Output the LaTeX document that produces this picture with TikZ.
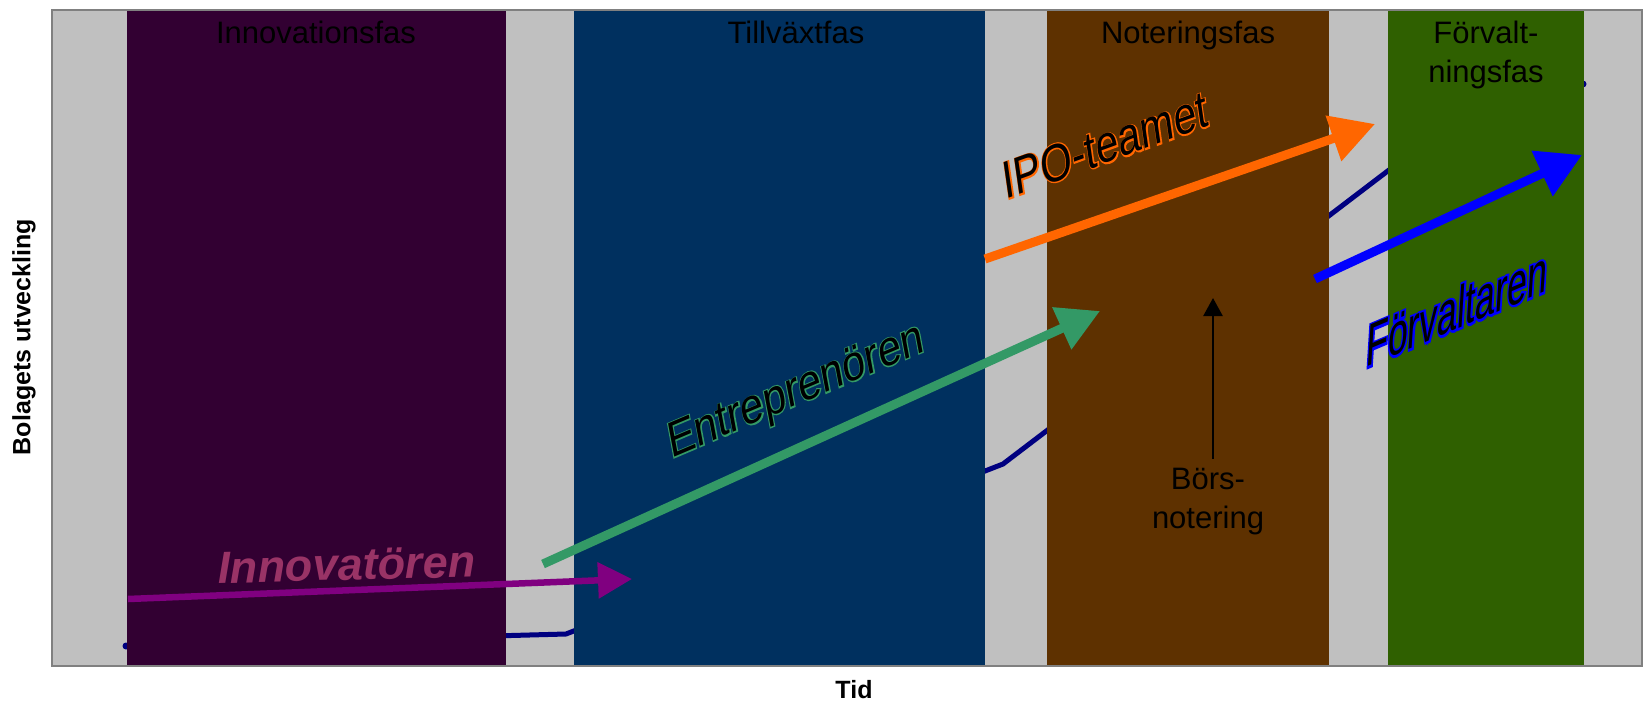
\documentclass[tikz,border=0pt]{standalone}
\usepackage{fontspec}
\setmainfont{Liberation Sans}
\newfontface\haloface{Liberation Sans}[FakeBold=5]
\newfontface\heavyhaloface{Liberation Sans}[FakeBold=8]
\usepackage{tikz}
\usepackage{xcolor}
\usetikzlibrary{arrows.meta}
\definecolor{plot_bg}{HTML}{C0C0C0}
\definecolor{plot_frame}{HTML}{808080}
\definecolor{phase_innov}{HTML}{320032}
\definecolor{phase_growth}{HTML}{00305F}
\definecolor{phase_ipo}{HTML}{5E3100}
\definecolor{phase_mgmt}{HTML}{2F6000}
\definecolor{dev_line}{HTML}{000080}
\definecolor{role_innov}{HTML}{800080}
\definecolor{role_innov_txt}{HTML}{993366}
\definecolor{role_entr}{HTML}{339966}
\definecolor{role_ipo}{HTML}{FF6600}
\definecolor{role_mgmt}{HTML}{0000FF}
% black letters with a coloured rim
\newcommand{\halotext}[2]{\rlap{\color{#1}\haloface #2}#2}
\newcommand{\heavyhalotext}[2]{\rlap{\color{#1}\heavyhaloface #2}#2}
\tikzset{
    phase_label/.style={font=\fontsize{15.5}{19.5}\selectfont,align=center,inner sep=0pt,anchor=north},
    axis_label/.style={font=\bfseries\fontsize{12.5}{15}\selectfont,inner sep=0pt},
    role_arrow/.style={-{Triangle[length=22pt,width=23pt]},line width=4.5pt},
    role_text/.style={font=\fontsize{24}{28}\selectfont,inner sep=0pt},
    pointer/.style={-{Triangle[length=9pt,width=9.5pt]},line width=1.25pt},
}

\begin{document}
\begin{tikzpicture}[x=0.5pt,y=-0.5pt]
  \useasboundingbox (0,0) rectangle (1643,702);
  % plot area and the development curve behind the phases
  \fill[plot_bg] (52,10) rectangle (1642,666);
  \draw[dev_line,line width=2.5pt,line join=round] (126,646) -- (566,634) -- (1003,464) -- (1410,154) -- (1583,84);
  \fill[dev_line] (126,646) circle (3.5) (1583,84) circle (3.5);
  % phases
  \fill[phase_innov] (127,9) rectangle (506,666);
  \fill[phase_growth] (574,9) rectangle (985,666);
  \fill[phase_ipo] (1047,9) rectangle (1329,666);
  \fill[phase_mgmt] (1388,9) rectangle (1584,666);
  \draw[plot_frame,line width=1pt] (52,10) rectangle (1642,666);
  \node[phase_label] (innov_lbl) at (316,21) {Innovationsfas};
  \node[phase_label] (growth_lbl) at (796,21) {Tillväxtfas};
  \node[phase_label] (ipo_lbl) at (1188,21) {Noteringsfas};
  \node[phase_label] (mgmt_lbl) at (1486,21) {Förvalt-\\ningsfas};
  % axes
  \node[axis_label,rotate=90] (ylab) at (24,337) {Bolagets utveckling};
  \node[axis_label,anchor=base] (xlab) at (854,698) {Tid};
  % roles
  \coordinate (innov_a) at (128,599);
  \coordinate (innov_b) at (632,579);
  \coordinate (entr_a) at (543,564);
  \coordinate (entr_b) at (1100,311);
  \coordinate (ipo_a) at (985,259);
  \coordinate (ipo_b) at (1375,124);
  \coordinate (mgmt_a) at (1315,279);
  \coordinate (mgmt_b) at (1582,155);
  \draw[role_arrow,role_innov,line width=3.25pt,-{Triangle[length=17pt,width=17.5pt]}] (innov_a) -- (innov_b);
  \draw[role_arrow,role_entr,-{Triangle[length=21pt,width=22pt]}] (entr_a) -- (entr_b);
  \draw[role_arrow,role_ipo] (ipo_a) -- (ipo_b);
  \draw[role_arrow,role_mgmt,-{Triangle[length=22pt,width=24pt]}] (mgmt_a) -- (mgmt_b);
  \node[role_text,anchor=base,rotate=1.5,text=role_innov_txt,font=\bfseries\itshape\fontsize{22.5}{27}\selectfont] (innov_txt) at (347,580) {Innovatören};
  \node[role_text,font=\fontsize{24}{28}\selectfont,rotate=23,xslant=0.22,xscale=0.9] (entr_txt) at (796,393) {\halotext{role_entr}{Entreprenören}};
  \node[role_text,font=\fontsize{25.5}{30}\selectfont,rotate=20,xslant=0.21,xscale=0.83] (ipo_txt) at (1105,145) {\halotext{role_ipo}{IPO-teamet}};
  \node[role_text,font=\fontsize{27}{32}\selectfont,rotate=23,xslant=0.5,xscale=0.72] (mgmt_txt) at (1457,308) {\heavyhalotext{role_mgmt}{Förvaltaren}};
  % listing
  \coordinate (listing_tip) at (1213,298);
  \node[phase_label] (listing_lbl) at (1208,468) {Börs-\\notering};
  \draw[pointer,shorten <=4.5pt] (listing_lbl.north -| listing_tip) -- (listing_tip);
\end{tikzpicture}
\end{document}
